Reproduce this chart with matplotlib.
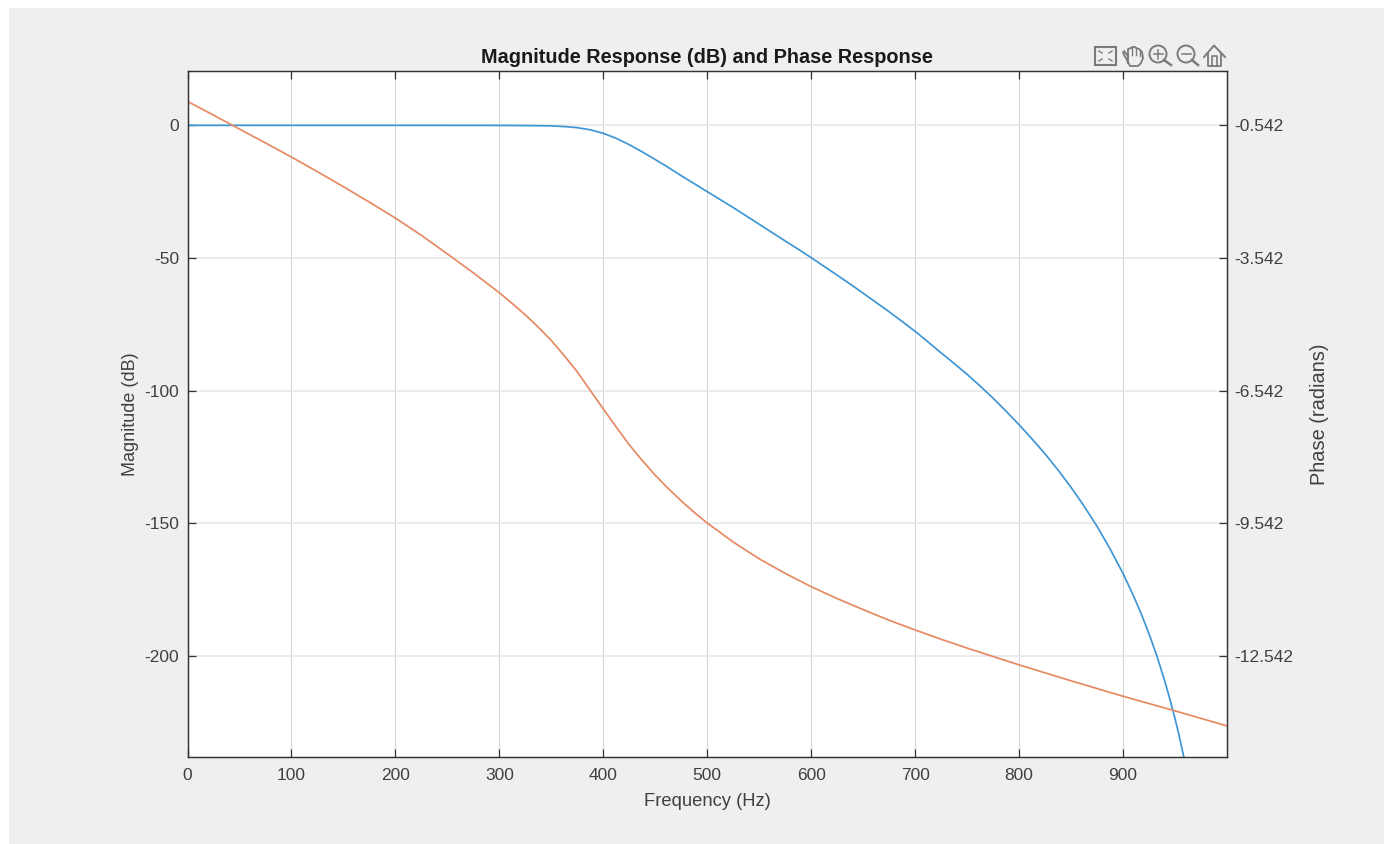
import matplotlib.pyplot as plt
from matplotlib.patches import Rectangle, Circle

W, H = 1384, 844

# values
freq_mag = [0, 100, 200, 300, 312.5, 325, 337.5, 350, 362.5, 375, 387.5, 400, 412.5, 425, 437.5, 450,
            462.5, 475, 487.5, 500, 512.5, 525, 537.5, 550, 562.5, 575, 587.5, 600, 612.5, 625, 637.5,
            650, 662.5, 675, 687.5, 700, 712.5, 725, 737.5, 750, 762.5, 775, 787.5, 800, 812.5, 825,
            837.5, 850, 862.5, 875, 887.5, 900, 910, 917.5, 925, 932.5, 940, 945, 950, 954, 958, 965]
mag_db = [0, 0, 0, -0.02, -0.05, -0.08, -0.13, -0.2, -0.45, -0.87, -1.68, -3.0, -4.9, -7.3, -10.0, -12.9,
          -15.85, -19, -22, -25, -28, -31, -34.15, -37.3, -40.45, -43.6, -46.7, -49.9, -53.2, -56.5, -59.85,
          -63.3, -66.8, -70.3, -73.95, -77.7, -81.7, -85.8, -89.8, -93.9, -98.3, -102.9, -107.8, -112.9,
          -118.3, -123.9, -130, -136.5, -143.6, -151.2, -159.7, -169, -177.4, -184.2, -191.8, -200, -209.4,
          -216.3, -223.7, -230.2, -237.4, -251.8]

freq_ph = [0, 25, 50, 75, 100, 125, 150, 175, 200, 225, 250, 275, 300, 312.5, 325, 337.5, 350, 362.5,
           375, 387.5, 400, 412.5, 425, 437.5, 450, 462.5, 475, 487.5, 500, 525, 550, 575, 600, 625,
           650, 675, 700, 725, 750, 775, 800, 825, 850, 875, 900, 925, 950, 975, 1000]
phase_rad = [0, -0.31, -0.626, -0.94, -1.26, -1.59, -1.93, -2.28, -2.64, -3.03, -3.45, -3.88, -4.33,
             -4.575, -4.83, -5.11, -5.41, -5.755, -6.12, -6.54, -6.96, -7.37, -7.77, -8.125, -8.46,
             -8.76, -9.04, -9.30, -9.54, -9.97, -10.35, -10.68, -10.98, -11.25, -11.50, -11.74, -11.96,
             -12.17, -12.37, -12.56, -12.75, -12.93, -13.11, -13.285, -13.46, -13.625, -13.79, -13.96,
             -14.13]

x_ticks = [0, 100, 200, 300, 400, 500, 600, 700, 800, 900]
mag_ticks = [0, -50, -100, -150, -200]
phase_ticks = [-0.542, -3.542, -6.542, -9.542, -12.542]

plt.rcParams['font.family'] = ['Liberation Sans', 'DejaVu Sans']
plt.rcParams['axes.unicode_minus'] = False

fig = plt.figure(figsize=(W / 100, H / 100), dpi=100, facecolor='white')
fig.add_artist(Rectangle((9 / W, 0), 1 - 9 / W, 1 - 8 / H, transform=fig.transFigure,
                         facecolor='#efefef', edgecolor='none', zorder=-5))

left, right, top, bottom = 187.5, 1227, 71, 757
ax = fig.add_axes([left / W, 1 - bottom / H, (right - left) / W, (bottom - top) / H])
ax.set_facecolor('white')
ax.set_xlim(0, 1000)
ax.set_ylim(-238.2, 20.5)
ax.plot(freq_mag, mag_db, color='#3f96d4', lw=1.25)

ax.set_xticks(x_ticks)
ax.set_yticks(mag_ticks)
ax.tick_params(axis='both', direction='in', length=6, width=0.9, color='#333333',
               labelcolor='#404040', labelsize=12.5, top=True)
ax.tick_params(axis='x', pad=8)
ax.tick_params(axis='y', pad=6)
ax.grid(True, axis='x', color='#d8d8d8', lw=0.8)
ax.grid(True, axis='y', color='#e8e8e8', lw=1.2)
ax.set_axisbelow(True)
ax.set_xlabel('Frequency (Hz)', fontsize=13.2, color='#404040', labelpad=7)
ax.set_ylabel('Magnitude (dB)', fontsize=13, color='#404040', labelpad=4)
ax.set_title('Magnitude Response (dB) and Phase Response', fontsize=14.3, fontweight='bold',
             color='#1a1a1a', pad=6)

ax2 = ax.twinx()
ax2.set_ylim(-0.542 + 0.06 * -238.2, -0.542 + 0.06 * 20.5)
ax2.plot(freq_ph, phase_rad, color='#e58a62', lw=1.25)
ax2.set_yticks(phase_ticks)
ax2.set_yticklabels(['%.3f' % v for v in phase_ticks])
ax2.tick_params(axis='y', direction='in', length=6, width=0.9, color='#333333',
                labelcolor='#404040', labelsize=12.5, pad=5)
ax2.set_ylabel('Phase (radians)', fontsize=14.4, color='#404040', labelpad=12)

for a in (ax, ax2):
    for spine in a.spines.values():
        spine.set_color('#333333')
        spine.set_linewidth(0.9)

# toolbar icons, drawn in pixel coordinates
tb = fig.add_axes([0, 0, 1, 1], zorder=10)
tb.set_xlim(0, W)
tb.set_ylim(H, 0)
tb.axis('off')
ic = '#7a7a7a'

tb.add_patch(Rectangle((1095, 47), 21, 18, fill=False, ec=ic, lw=1.5))
for sx, sy in [(1, 1), (-1, 1), (1, -1), (-1, -1)]:
    cx, cy = 1105.5 + sx * 6.5, 56 + sy * 5
    tb.plot([cx, cx - sx * 3], [cy, cy - sy * 2], color=ic, lw=1)

hand_x = [1128, 1124, 1123, 1127, 1128, 1128, 1131, 1132, 1135, 1136, 1139, 1140, 1142, 1143, 1141, 1138, 1130, 1128]
hand_y = [56, 51, 53, 60, 63, 49, 48, 47, 47, 48, 49, 50, 52, 58, 63, 66, 66, 62]
tb.plot(hand_x, hand_y, color=ic, lw=1.3)
tb.plot([1132, 1132], [48, 55], color=ic, lw=1)
tb.plot([1136, 1136], [48, 55], color=ic, lw=1)
tb.plot([1140, 1140], [50, 56], color=ic, lw=1)

for cx, x_end in [(1158, 1171), (1186, 1198)]:
    tb.add_patch(Circle((cx, 54), 8.5, fill=False, ec=ic, lw=1.4))
    tb.plot([cx + 6, x_end], [60, 65], color=ic, lw=1.8)
    tb.plot([cx - 4.5, cx + 4.5], [54, 54], color=ic, lw=1.1)
tb.plot([1158, 1158], [49.5, 58.5], color=ic, lw=1.1)

tb.plot([1204, 1214, 1225], [57, 45.5, 57], color=ic, lw=1.4)
tb.plot([1208, 1208, 1221, 1221], [53, 66, 66, 53], color=ic, lw=1.3)
tb.plot([1212, 1212, 1217, 1217], [66, 56, 56, 66], color=ic, lw=1.2)

fig.savefig('out.png', dpi=100)
